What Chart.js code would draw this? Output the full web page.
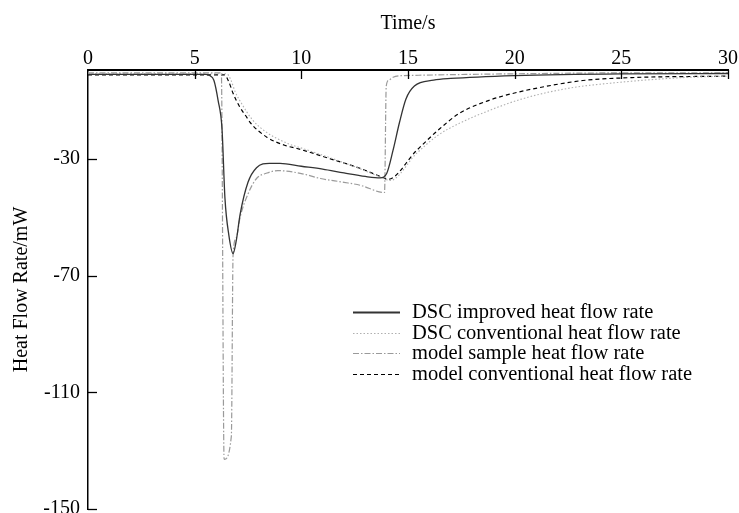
<!DOCTYPE html>
<html>
<head>
<meta charset="utf-8">
<script src="https://cdn.jsdelivr.net/npm/chart.js@4.4.1/dist/chart.umd.min.js"></script>
<style>
  html, body { margin: 0; padding: 0; background: #fff; }
  #wrap { width: 739px; height: 513px; }
</style>
</head>
<body>
<div id="wrap"><canvas id="dscChart"></canvas></div>
<script>
// x ticks and y ticks
const xTicks = [0, 5, 10, 15, 20, 25, 30];
const yTicks = [-30, -70, -110, -150];

// DSC improved heat flow rate (solid)
const tImproved = [0, 5.5, 5.7, 5.9, 6.1, 6.28, 6.42, 6.6, 6.8, 6.95, 7.13, 7.5, 7.9, 8.5, 9, 10, 11, 12, 13, 13.7, 14.0, 14.3, 14.6, 14.9, 15.3, 16.2, 17, 20, 25, 30];
const vImproved = [-1, -1, -1.4, -3, -10, -19.5, -43.5, -56, -62.4, -58, -49, -38, -33, -31.5, -31.5, -32.5, -33.5, -34.8, -36, -36.5, -35, -27, -17.5, -9.5, -5, -3, -2.4, -1.4, -0.8, -0.7];

// DSC conventional heat flow rate (dotted)
const tConv = [0, 6.5, 6.7, 6.9, 7.2, 7.7, 8.3, 9.3, 10.1, 11.7, 12.8, 13.8, 14.15, 15.4, 16.4, 17.4, 18.8, 20.4, 22.5, 24.8, 27.9, 30];
const vConv = [-0.8, -0.8, -3, -7, -11, -16.5, -20.5, -24.5, -26.5, -30.5, -33.5, -36.5, -37.4, -28.1, -21.9, -17.8, -13.4, -9.3, -5.8, -3.8, -2.1, -1.6];

// model sample heat flow rate (dash-dot)
const tSample = [0, 6.25, 6.38, 6.72, 6.8, 6.95, 7.13, 7.5, 7.9, 8.4, 8.9, 10, 10.9, 12, 12.75, 13.9, 13.98, 14.1, 14.3, 14.6, 15.5, 17, 20, 25, 30];
const vSample = [-0.5, -0.5, -133, -125, -63, -57, -50, -42, -36.7, -34.8, -34, -35, -36.7, -38, -39, -41.5, -5, -3, -2, -1.5, -1.3, -1.1, -0.8, -0.5, -0.5];

// model conventional heat flow rate (dashed)
const tModelConv = [0, 6.4, 6.6, 6.8, 7.1, 7.45, 7.6, 8.4, 9.3, 9.8, 11.3, 12.75, 13.8, 14.05, 15.4, 16.4, 17.4, 18.8, 20.1, 21.7, 23.2, 25.5, 30];
const vModelConv = [-1.2, -1.2, -3.5, -7.5, -12, -15.8, -17.5, -22.6, -25.5, -26.4, -29.8, -33.2, -36.3, -37, -27.1, -20.2, -14.4, -9.9, -7.2, -4.8, -3.1, -2.1, -1.6];

const seriesNames = [
  'DSC improved heat flow rate',
  'DSC conventional heat flow rate',
  'model sample heat flow rate',
  'model conventional heat flow rate'
];

function toPoints(t, v) {
  return t.map((x, i) => ({ x: x, y: v[i] }));
}

const FONT = '"Liberation Serif", "Times New Roman", serif';

const innerTicks = {
  id: 'innerTicks',
  afterDatasetsDraw(chart) {
    const { ctx, chartArea, scales } = chart;
    ctx.save();
    ctx.strokeStyle = '#000';
    ctx.lineWidth = 1.3;
    xTicks.forEach(v => {
      if (v === 0) return;
      const px = Math.round(scales.x.getPixelForValue(v)) + 0.5;
      ctx.beginPath();
      ctx.moveTo(px, chartArea.top);
      ctx.lineTo(px, chartArea.top + 9);
      ctx.stroke();
    });
    yTicks.forEach(v => {
      const py = Math.round(scales.y.getPixelForValue(v)) + 0.5;
      ctx.beginPath();
      ctx.moveTo(chartArea.left, py);
      ctx.lineTo(chartArea.left + 9, py);
      ctx.stroke();
    });
    ctx.restore();
  }
};

const innerLegend = {
  id: 'innerLegend',
  afterDraw(chart) {
    const ctx = chart.ctx;
    const x0 = 353, x1 = 400, tx = 412;
    const rows = [312, 333, 353, 374];
    ctx.save();
    ctx.font = '20.5px ' + FONT;
    ctx.textBaseline = 'middle';
    ctx.fillStyle = '#000';
    chart.data.datasets.forEach((ds, i) => {
      const y = rows[i] + 0.5;
      ctx.beginPath();
      ctx.strokeStyle = ds.borderColor;
      ctx.lineWidth = i === 0 ? 2.2 : ds.borderWidth;
      ctx.setLineDash(ds.borderDash || []);
      ctx.moveTo(x0, y);
      ctx.lineTo(x1, y);
      ctx.stroke();
      ctx.setLineDash([]);
      ctx.fillText(ds.label, tx, rows[i] + 1);
    });
    ctx.restore();
  }
};

const ctx = document.getElementById('dscChart').getContext('2d');
new Chart(ctx, {
  type: 'line',
  data: {
    datasets: [
      {
        label: seriesNames[0],
        data: toPoints(tImproved, vImproved),
        borderColor: '#333333',
        borderWidth: 1.3
      },
      {
        label: seriesNames[1],
        data: toPoints(tConv, vConv),
        borderColor: '#b0b0b0',
        borderWidth: 1.1,
        borderDash: [1.5, 2]
      },
      {
        label: seriesNames[2],
        data: toPoints(tSample, vSample),
        borderColor: '#9a9a9a',
        borderWidth: 1.2,
        borderDash: [6, 2, 1.5, 2]
      },
      {
        label: seriesNames[3],
        data: toPoints(tModelConv, vModelConv),
        borderColor: '#000000',
        borderWidth: 1.2,
        borderDash: [4, 3]
      }
    ]
  },
  options: {
    responsive: true,
    maintainAspectRatio: false,
    animation: false,
    layout: { padding: { left: 10, right: 11, top: 0, bottom: 4 } },
    elements: {
      point: { radius: 0 },
      line: { cubicInterpolationMode: 'monotone', fill: false }
    },
    plugins: {
      legend: { display: false },
      tooltip: { enabled: false }
    },
    scales: {
      x: {
        type: 'linear',
        position: 'top',
        min: 0,
        max: 30,
        afterBuildTicks: scale => { scale.ticks = xTicks.map(v => ({ value: v })); },
        afterFit: scale => { scale.height = 70; scale.paddingRight = 0; },
        grid: { display: false, drawTicks: false },
        border: { display: true, color: '#000', width: 2 },
        ticks: { color: '#000', padding: -1, font: { family: FONT, size: 20 }, maxRotation: 0 },
        title: { display: true, text: 'Time/s', color: '#000', padding: { top: 12, bottom: 0 }, font: { family: FONT, size: 20 } }
      },
      y: {
        type: 'linear',
        min: -150,
        max: 0.5,
        afterBuildTicks: scale => { scale.ticks = yTicks.map(v => ({ value: v })); },
        afterFit: scale => { scale.width = 78; scale.paddingBottom = 0; scale.paddingTop = 0; },
        grid: { display: false, drawTicks: false },
        border: { display: true, color: '#000', width: 1.5 },
        ticks: { color: '#000', padding: 8, font: { family: FONT, size: 20 } },
        title: { display: true, text: 'Heat Flow Rate/mW', color: '#000', padding: 0, font: { family: FONT, size: 20 } }
      }
    }
  },
  plugins: [innerTicks, innerLegend]
});
</script>
</body>
</html>
